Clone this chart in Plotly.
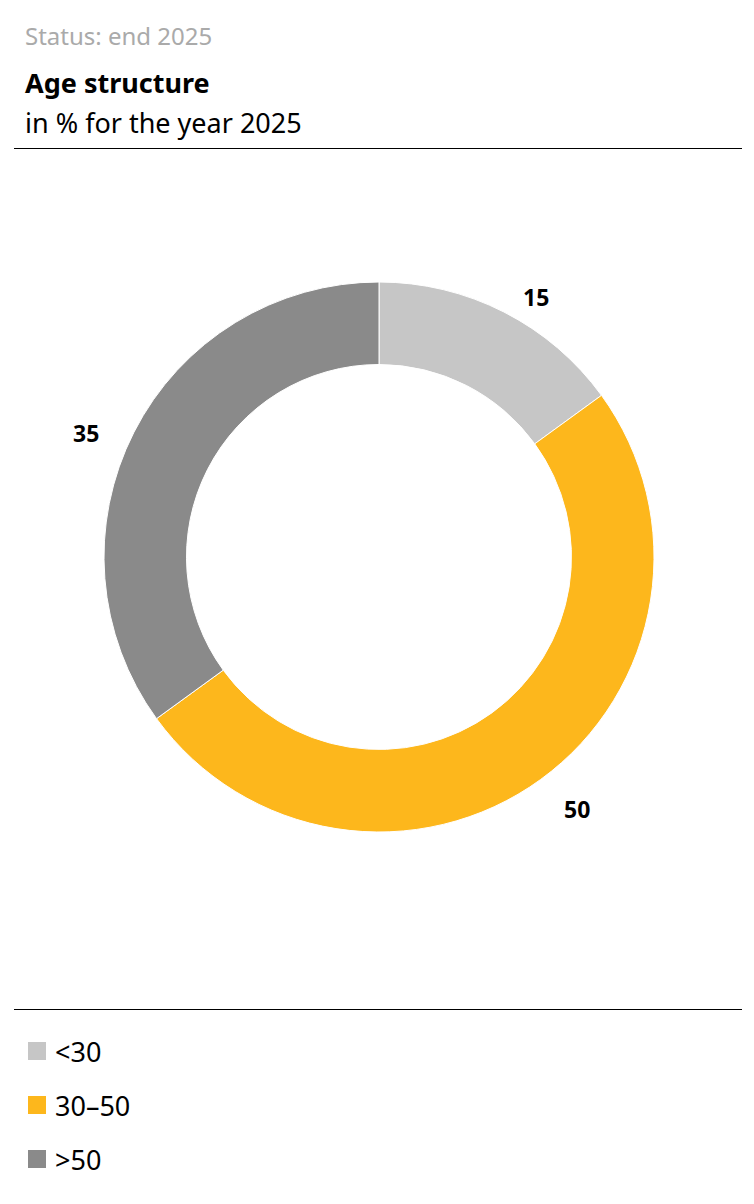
import math
import plotly.graph_objects as go

# ---- data ----
categories = ["<30", "30\u201350", ">50"]
values = [15, 50, 35]
colors = ["#c6c6c6", "#fdb71c", "#8a8a8a"]

status_text = "Status: end 2025"
title_text = "Age structure"
subtitle_text = "in % for the year 2025"

# ---- layout constants (pixels) ----
W, H = 754, 1204
FONT = "Noto Sans"
cx, cy, R = 379, 557, 275
label_r = 312
TXT = 27


def px(x):
    return x / W


def py(y):
    return 1 - y / H


fig = go.Figure()
fig.add_trace(go.Pie(
    labels=categories,
    values=values,
    marker=dict(colors=colors, line=dict(color="white", width=1)),
    hole=0.7,
    sort=False,
    direction="clockwise",
    rotation=0,
    textinfo="none",
    hoverinfo="label+value",
    showlegend=False,
    domain=dict(x=[px(cx - R), px(cx + R)], y=[py(cy + R), py(cy - R)]),
))

annotations = []
shapes = []

# slice value labels placed outside the ring, computed from the data
total = sum(values)
cum = 0
for v in values:
    mid = (cum + v / 2) / total * 2 * math.pi
    cum += v
    lx = cx + label_r * math.sin(mid)
    ly = cy - label_r * math.cos(mid)
    annotations.append(dict(
        x=px(lx), y=py(ly), xref="paper", yref="paper",
        text=f"<b>{v}</b>", showarrow=False,
        xanchor="left" if math.sin(mid) >= 0 else "right",
        yanchor="top" if math.cos(mid) > 0 else "middle",
        font=dict(family=FONT, size=23, color="#000000"),
    ))

# header texts
annotations += [
    dict(x=px(23), y=py(35), xref="paper", yref="paper", text=status_text,
         showarrow=False, xanchor="left", yanchor="middle",
         font=dict(family=FONT, size=24, color="#aaaaaa")),
    dict(x=px(23), y=py(83), xref="paper", yref="paper", text=f"<b>{title_text}</b>",
         showarrow=False, xanchor="left", yanchor="middle",
         font=dict(family=FONT, size=TXT, color="#000000")),
    dict(x=px(23), y=py(123), xref="paper", yref="paper", text=subtitle_text,
         showarrow=False, xanchor="left", yanchor="middle",
         font=dict(family=FONT, size=TXT, color="#000000")),
]

# separator lines
for yl in (148.5, 1009.5):
    shapes.append(dict(type="line", xref="paper", yref="paper",
                       x0=px(14), x1=px(742), y0=py(yl), y1=py(yl),
                       line=dict(color="#000000", width=1)))

# legend drawn manually
for i, (cat, col) in enumerate(zip(categories, colors)):
    yc = 1051 + i * 54
    shapes.append(dict(type="rect", xref="paper", yref="paper",
                       x0=px(28), x1=px(46), y0=py(yc + 9), y1=py(yc - 9),
                       fillcolor=col, line=dict(width=0)))
    annotations.append(dict(x=px(53), y=py(yc), xref="paper", yref="paper",
                            text=cat, showarrow=False, xanchor="left", yanchor="middle",
                            font=dict(family=FONT, size=TXT, color="#000000")))

fig.update_layout(
    width=W, height=H,
    margin=dict(l=0, r=0, t=0, b=0),
    paper_bgcolor="white", plot_bgcolor="white",
    annotations=annotations, shapes=shapes,
    font=dict(family=FONT),
)

fig.write_html("out.html", config={"displayModeBar": False},
               post_script="document.body.style.margin='0';")
